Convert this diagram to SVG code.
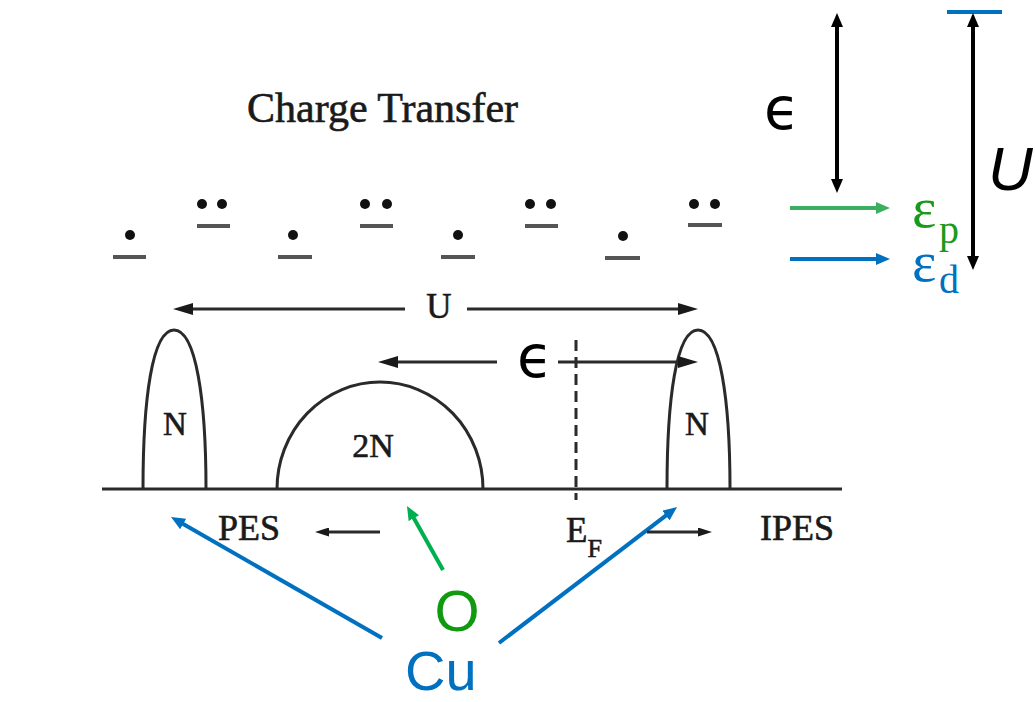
<svg xmlns="http://www.w3.org/2000/svg" width="1035" height="702" viewBox="0 0 1035 702">
  <style>
    .scan { font-family: "Liberation Serif", "Times New Roman", serif; fill: #1a1a1a; stroke: #1a1a1a; stroke-width: 0.6; }
    .sline { stroke: #2a2a2a; stroke-width: 3; fill: none; }
    .lvl { stroke: #555; stroke-width: 4; }
    .dot { fill: #111; }
    .blk { stroke: #000; stroke-width: 4; fill: none; }
    .grn { stroke: #3cae5f; stroke-width: 4; fill: none; }
    .grn2 { stroke: #00b050; stroke-width: 4; fill: none; }
    .blu { stroke: #0070c0; stroke-width: 4; fill: none; }
    .sans { font-family: "Liberation Sans", Arial, sans-serif; }
    .sym { font-family: "DejaVu Sans", sans-serif; }
  </style>
  <defs>
    <marker id="hBlack" viewBox="0 0 14 12" refX="4" refY="6" markerWidth="14" markerHeight="12" markerUnits="userSpaceOnUse" orient="auto-start-reverse">
      <path d="M0,0 L14,6 L0,12 z" fill="#000"/>
    </marker>
    <marker id="hGreen" viewBox="0 0 14 12" refX="4" refY="6" markerWidth="14" markerHeight="12" markerUnits="userSpaceOnUse" orient="auto">
      <path d="M0,0 L14,6 L0,12 z" fill="#3cae5f"/>
    </marker>
    <marker id="hGreen2" viewBox="0 0 14 12" refX="4" refY="6" markerWidth="14" markerHeight="12" markerUnits="userSpaceOnUse" orient="auto">
      <path d="M0,0 L14,6 L0,12 z" fill="#00b050"/>
    </marker>
    <marker id="hBlue" viewBox="0 0 14 12" refX="4" refY="6" markerWidth="14" markerHeight="12" markerUnits="userSpaceOnUse" orient="auto">
      <path d="M0,0 L14,6 L0,12 z" fill="#0070c0"/>
    </marker>
    <marker id="hScan" viewBox="0 0 20 12" refX="6" refY="6" markerWidth="20" markerHeight="12" markerUnits="userSpaceOnUse" orient="auto">
      <path d="M0,0 L20,6 L0,12 z" fill="#1a1a1a"/>
    </marker>
    <marker id="hSmall" viewBox="0 0 14 9" refX="4" refY="4.5" markerWidth="14" markerHeight="9" markerUnits="userSpaceOnUse" orient="auto">
      <path d="M0,0 L14,4.5 L0,9 z" fill="#1a1a1a"/>
    </marker>
  </defs>
  <rect width="1035" height="702" fill="#fff"/>

  <g id="title">
    <text class="scan" x="247" y="122" font-size="42">Charge Transfer</text>
  </g>

  <g id="levels">
    <circle class="dot" cx="130" cy="235" r="5"/><line class="lvl" x1="113" y1="257" x2="146" y2="257"/>
    <circle class="dot" cx="202" cy="204" r="5"/><circle class="dot" cx="222" cy="204" r="5"/><line class="lvl" x1="197" y1="226" x2="230" y2="226"/>
    <circle class="dot" cx="293" cy="235" r="5"/><line class="lvl" x1="278" y1="257" x2="312" y2="257"/>
    <circle class="dot" cx="365" cy="204" r="5"/><circle class="dot" cx="387" cy="204" r="5"/><line class="lvl" x1="360" y1="226" x2="393" y2="226"/>
    <circle class="dot" cx="458" cy="235" r="5"/><line class="lvl" x1="441" y1="257" x2="475" y2="257"/>
    <circle class="dot" cx="530" cy="204" r="5"/><circle class="dot" cx="551" cy="204" r="5"/><line class="lvl" x1="525" y1="226" x2="558" y2="226"/>
    <circle class="dot" cx="623" cy="236" r="5"/><line class="lvl" x1="605" y1="258" x2="640" y2="258"/>
    <circle class="dot" cx="694" cy="204" r="5"/><circle class="dot" cx="715" cy="204" r="5"/><line class="lvl" x1="688" y1="225" x2="722" y2="225"/>
  </g>

  <g id="spectrum">
    <line class="sline" x1="102" y1="489" x2="842" y2="489"/>
    <path class="sline" d="M143,489 C143,400 152,330 174,330 C196,330 206,400 206,489"/>
    <path class="sline" d="M277,489 A103,107 0 0 1 483,489"/>
    <path class="sline" d="M667,489 C667,400 676,330 698,330 C720,330 730,400 730,489"/>
    <line class="sline" x1="576" y1="340" x2="576" y2="500" stroke-dasharray="11,6"/>
  </g>

  <g id="peak-labels">
    <text class="scan" x="175" y="435" font-size="33" text-anchor="middle">N</text>
    <text class="scan" x="373" y="457" font-size="34" text-anchor="middle">2N</text>
    <text class="scan" x="697" y="435" font-size="33" text-anchor="middle">N</text>
  </g>

  <g id="axis-labels">
    <text class="scan" x="218" y="540" font-size="36">PES</text>
    <text class="scan" x="566" y="542" font-size="35">E<tspan font-size="26" dy="15">F</tspan></text>
    <text class="scan" x="760" y="540" font-size="36">IPES</text>
    <text class="scan" x="439" y="318" font-size="35" text-anchor="middle">U</text>
    <text class="sym" x="517" y="377" font-size="58">ϵ</text>
  </g>

  <g id="energy-scale">
    <line class="blu" x1="947" y1="12" x2="1002" y2="12"/>
    <text class="sym" x="764" y="129" font-size="58">ϵ</text>
    <text class="sans" x="988" y="190" font-size="62" font-style="italic">U</text>
  </g>

  <g id="eps-p">
    <text x="912" y="227" font-family="Liberation Serif, serif" font-size="58" fill="#1a9a1a">ε<tspan x="939" y="243" font-size="40">p</tspan></text>
  </g>
  <g id="eps-d">
    <text x="912" y="281" font-family="Liberation Serif, serif" font-size="58" fill="#0070c0">ε<tspan x="939" y="293" font-size="40">d</tspan></text>
  </g>

  <g id="O">
    <text class="sans" x="457" y="631" font-size="58" fill="#109a10" text-anchor="middle">O</text>
  </g>
  <g id="Cu">
    <text class="sans" x="405" y="690" font-size="56" fill="#0070c0">Cu</text>
  </g>

  <g id="connectors">
    <line class="blk" x1="837" y1="23" x2="837" y2="183" marker-start="url(#hBlack)" marker-end="url(#hBlack)"/>
    <line class="blk" x1="973" y1="23" x2="973" y2="260" marker-start="url(#hBlack)" marker-end="url(#hBlack)"/>
    <line class="grn" x1="790" y1="208" x2="880" y2="208" marker-end="url(#hGreen)"/>
    <line class="blu" x1="790" y1="259" x2="880" y2="259" marker-end="url(#hBlue)"/>
    <line class="grn2" x1="443" y1="570" x2="411.9" y2="514.7" marker-end="url(#hGreen2)"/>
    <line class="blu" x1="382" y1="638" x2="179.7" y2="522" marker-end="url(#hBlue)"/>
    <line class="blu" x1="499" y1="643" x2="669.1" y2="513.1" marker-end="url(#hBlue)"/>
    <line class="sline" x1="405" y1="309" x2="187" y2="309" stroke-width="2.5" marker-end="url(#hScan)"/>
    <line class="sline" x1="467" y1="309" x2="684" y2="309" stroke-width="2.5" marker-end="url(#hScan)"/>
    <line class="sline" x1="497" y1="362" x2="392" y2="362" stroke-width="4" marker-end="url(#hScan)"/>
    <line class="sline" x1="558" y1="362" x2="684" y2="362" stroke-width="4" marker-end="url(#hScan)"/>
    <line class="sline" x1="380" y1="532" x2="325" y2="532" stroke-width="3" marker-end="url(#hSmall)"/>
    <line class="sline" x1="647" y1="532" x2="702" y2="532" stroke-width="3" marker-end="url(#hSmall)"/>
  </g>
</svg>
